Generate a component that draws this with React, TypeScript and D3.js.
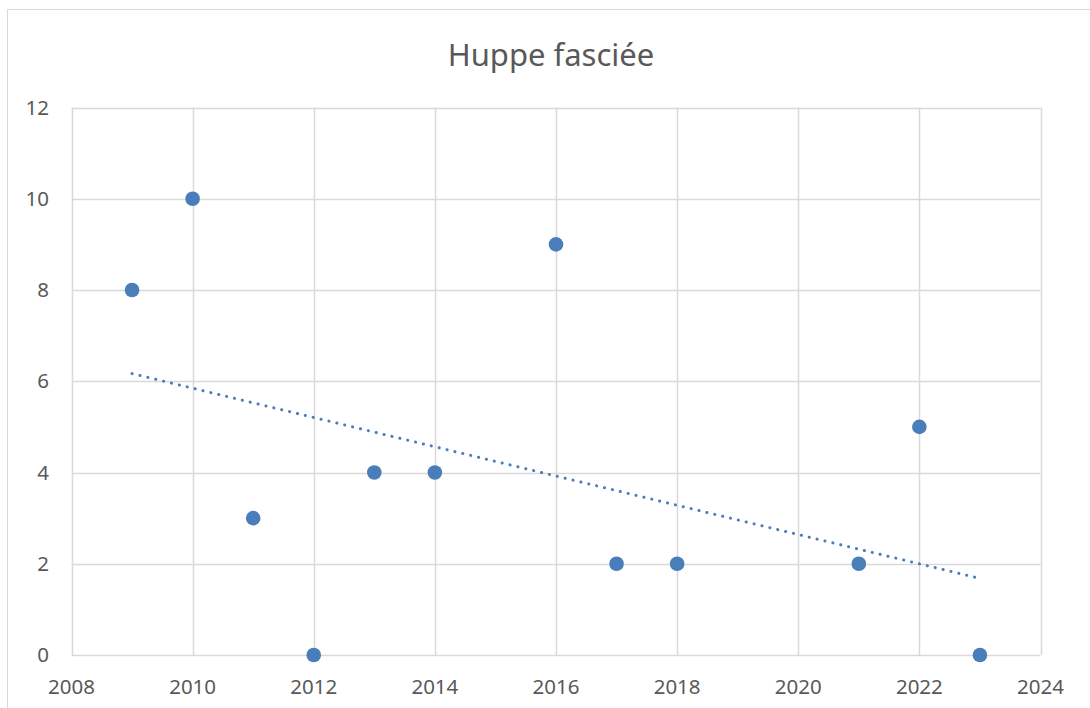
import React from "react";
import * as d3 from "d3";

const years = [2009, 2010, 2011, 2012, 2013, 2014, 2016, 2017, 2018, 2021, 2022, 2023];
const counts = [8, 10, 3, 0, 4, 4, 9, 2, 2, 2, 5, 0];
const xTicks = [2008, 2010, 2012, 2014, 2016, 2018, 2020, 2022, 2024];
const yTicks = [0, 2, 4, 6, 8, 10, 12];
const title = "Huppe fasciée";

const W = 1090, H = 708;
const plot = { left: 71.5, right: 1040.5, top: 107.5, bottom: 655 };

export default function App() {
  const x = d3.scaleLinear().domain([2008, 2024]).range([plot.left, plot.right]);
  const y = d3.scaleLinear().domain([0, 12]).range([plot.bottom, plot.top]);

  const mx = d3.mean(years)!;
  const my = d3.mean(counts)!;
  let sxy = 0, sxx = 0;
  years.forEach((xv, i) => { sxy += (xv - mx) * (counts[i] - my); sxx += (xv - mx) * (xv - mx); });
  const slope = sxy / sxx;
  const intercept = my - slope * mx;
  const x0 = d3.min(years)!, x1 = d3.max(years)!;
  const line = d3.line<number>().x(d => x(d)).y(d => y(intercept + slope * d));

  const font = "'Noto Sans', 'Open Sans', sans-serif";
  return (
    <svg width={W} height={H} style={{ position: "absolute", left: 0, top: 0, background: "#fff" }}>
      <rect x={7.5} y={9.5} width={1100} height={720} fill="#fff" stroke="#d9d9d9" strokeWidth={1} />
      <text x={551} y={66} textAnchor="middle" fontFamily={font} fontSize={31} fill="#595959">{title}</text>
      {xTicks.map(t => (
        <line key={"gx" + t} x1={Math.round(x(t)) + 0.5} x2={Math.round(x(t)) + 0.5} y1={plot.top} y2={plot.bottom} stroke="#d9d9d9" strokeWidth={1.5} />
      ))}
      {yTicks.map(t => (
        <line key={"gy" + t} x1={plot.left} x2={plot.right} y1={Math.round(y(t)) + 0.5} y2={Math.round(y(t)) + 0.5} stroke="#d9d9d9" strokeWidth={1.5} />
      ))}
      {yTicks.map(t => (
        <text key={"ty" + t} x={49} y={y(t) + 7} textAnchor="end" fontFamily={font} fontSize={20.5} fill="#595959">{t}</text>
      ))}
      {xTicks.map(t => (
        <text key={"tx" + t} x={x(t)} y={694} textAnchor="middle" fontFamily={font} fontSize={20.5} fill="#595959">{t}</text>
      ))}
      <path d={line([x0, x1]) || ""} fill="none" stroke="#4a7ebb" strokeWidth={3} strokeDasharray="0.1 8" strokeLinecap="round" />
      {years.map((yr, i) => (
        <circle key={"p" + yr} cx={x(yr)} cy={y(counts[i])} r={7.3} fill="#4a7ebb" />
      ))}
    </svg>
  );
}
